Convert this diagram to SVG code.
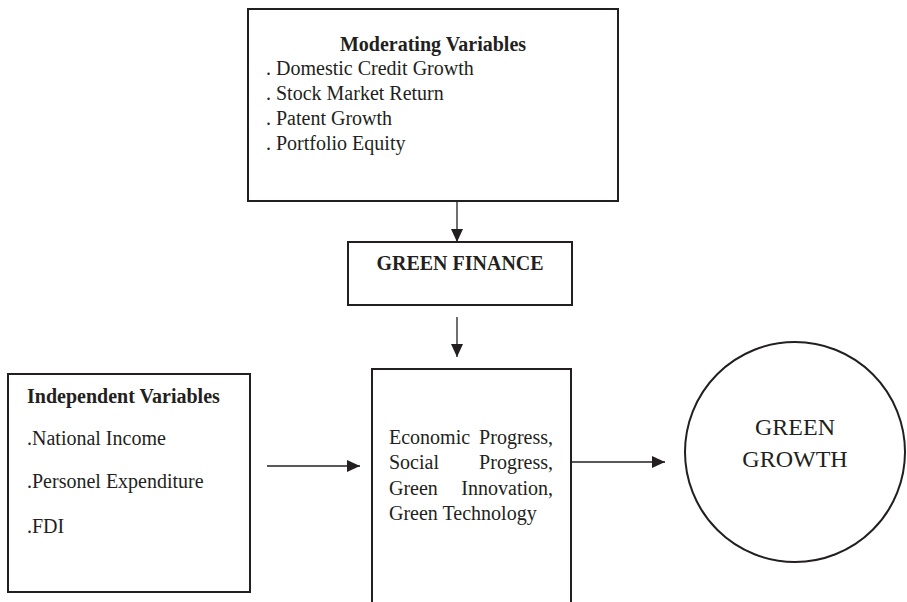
<svg xmlns="http://www.w3.org/2000/svg" width="907" height="602" viewBox="0 0 907 602">
<style>
.box{fill:#fff;stroke:#231f20;stroke-width:2}
.t{font-family:"Liberation Serif","Times New Roman",serif;font-size:20px;fill:#231f20}
.b{font-weight:bold}
.big{font-size:24px}
.c{stroke:#231f20;stroke-width:1.3;fill:none}
</style>
<defs>
<marker id="ah" markerUnits="userSpaceOnUse" markerWidth="13" markerHeight="12" refX="13" refY="6" orient="auto">
<path d="M0,0 L13,6 L0,12 z" fill="#231f20"/>
</marker>
</defs>
<rect width="907" height="602" fill="#fff"/>
<g id="moderating">
<rect class="box" x="248" y="9" width="370" height="192"/>
<text class="t b" x="433" y="51" text-anchor="middle">Moderating Variables</text>
<text class="t" x="266" y="75">. Domestic Credit Growth</text>
<text class="t" x="266" y="100">. Stock Market Return</text>
<text class="t" x="266" y="125">. Patent Growth</text>
<text class="t" x="266" y="150">. Portfolio Equity</text>
</g>
<g id="green-finance">
<rect class="box" x="348" y="242" width="224" height="63"/>
<text class="t b" x="460" y="270" text-anchor="middle">GREEN FINANCE</text>
</g>
<g id="independent">
<rect class="box" x="8" y="374" width="242" height="218"/>
<text class="t b" x="27" y="403">Independent Variables</text>
<text class="t" x="27" y="445">.National Income</text>
<text class="t" x="27" y="488">.Personel Expenditure</text>
<text class="t" x="27" y="533">.FDI</text>
</g>
<g id="outcomes">
<path class="box" d="M372,606 V369 H571 V606"/>
<text class="t" x="389" y="444">Economic</text>
<text class="t" x="553" y="444" text-anchor="end">Progress,</text>
<text class="t" x="389" y="469">Social</text>
<text class="t" x="553" y="469" text-anchor="end">Progress,</text>
<text class="t" x="389" y="495">Green</text>
<text class="t" x="553" y="495" text-anchor="end">Innovation,</text>
<text class="t" x="389" y="520">Green Technology</text>
</g>
<g id="green-growth">
<circle class="box" cx="795" cy="452" r="110"/>
<text class="t big" x="795" y="435" text-anchor="middle">GREEN</text>
<text class="t big" x="795" y="467" text-anchor="middle">GROWTH</text>
</g>
<g id="connectors">
<line class="c" x1="457" y1="201" x2="457" y2="242" marker-end="url(#ah)"/>
<line class="c" x1="457" y1="317" x2="457" y2="357" marker-end="url(#ah)"/>
<line class="c" x1="267" y1="466" x2="360" y2="466" marker-end="url(#ah)"/>
<line class="c" x1="571" y1="462" x2="665" y2="462" marker-end="url(#ah)"/>
</g>
</svg>
